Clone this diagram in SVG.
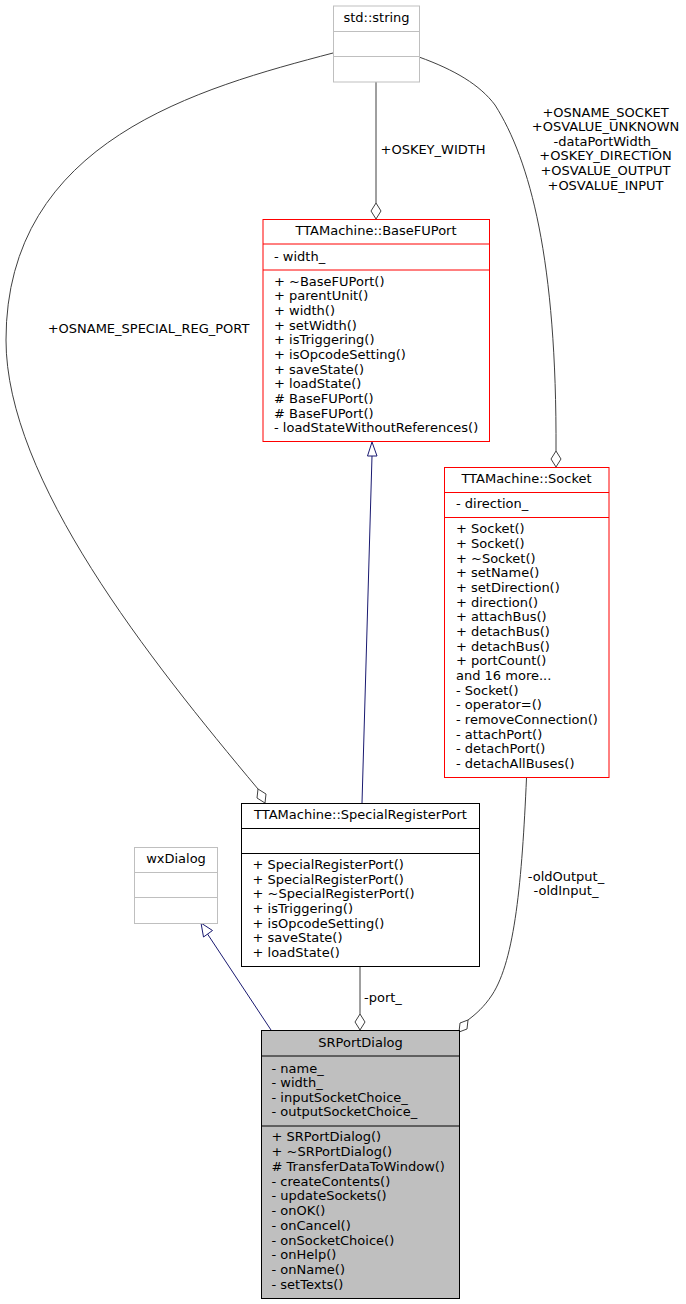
<svg xmlns="http://www.w3.org/2000/svg" width="686" height="1304" viewBox="0 0 686 1304">
<style>
text{font-family:"DejaVu Sans",Verdana,sans-serif;font-size:13px;fill:#000}
.c{text-anchor:middle}
.box{fill:#fff;stroke:#000;stroke-width:1}
.red{fill:#fff;stroke:#ff0000;stroke-width:1}
.gray{fill:#fff;stroke:#bfbfbf;stroke-width:1}
.sel{fill:#bfbfbf;stroke:#000;stroke-width:1}
.e{fill:none;stroke:#404040;stroke-width:1}
.inh{fill:none;stroke:#191970;stroke-width:1}
.dia{fill:#fff;stroke:#404040;stroke-width:1}
.tri{fill:#fff;stroke:#191970;stroke-width:1}
</style>
<rect width="686" height="1304" fill="#fff"/>
<g id="connectors">
  <!-- std::string -> BaseFUPort -->
  <path class="e" d="M376,82 L376,203"/>
  <polygon class="dia" points="376,203 381,211 376,219 371,211"/>
  <text x="380.5" y="154">+OSKEY_WIDTH</text>
  <!-- std::string -> Socket -->
  <path class="e" d="M419,57 C455,70 480,85 495,105 C530,160 557,260 556,451"/>
  <polygon class="dia" points="556,451 561,459 556,467 551,459"/>
  <text class="c" x="605.5" y="116.7">+OSNAME_SOCKET</text>
  <text class="c" x="605.5" y="131.3">+OSVALUE_UNKNOWN</text>
  <text class="c" x="605.5" y="145.7">-dataPortWidth_</text>
  <text class="c" x="605.5" y="160.3">+OSKEY_DIRECTION</text>
  <text class="c" x="605.5" y="175">+OSVALUE_OUTPUT</text>
  <text class="c" x="605.5" y="189.7">+OSVALUE_INPUT</text>
  <!-- std::string -> SpecialRegisterPort -->
  <path class="e" d="M333,53 C200,88 6,140 6,340 C6,480 150,660 258,789"/>
  <polygon class="dia" points="258,789 266,794 265,803 257,798"/>
  <text class="c" x="148.5" y="333">+OSNAME_SPECIAL_REG_PORT</text>
  <!-- SpecialRegisterPort -> BaseFUPort (inheritance) -->
  <path class="inh" d="M362,803 L372,456"/>
  <polygon class="tri" points="372,442 377,456 367.5,456"/>
  <!-- SRPortDialog -> wxDialog (inheritance) -->
  <path class="inh" d="M271,1030 L207.5,934"/>
  <polygon class="tri" points="201,923 212.5,930.5 203.5,937"/>
  <!-- SpecialRegisterPort -> SRPortDialog -->
  <path class="e" d="M360,967 L360,1014"/>
  <polygon class="dia" points="360,1014 365,1022 360,1030 355,1022"/>
  <text x="364" y="1002">-port_</text>
  <!-- Socket -> SRPortDialog -->
  <path class="e" d="M526.5,778 C522,880 515,960 492,995 C484,1007 476,1014 468,1020"/>
  <polygon class="dia" points="468,1020 467,1029 459,1032 460,1023"/>
  <text class="c" x="566" y="880.5">-oldOutput_</text>
  <text class="c" x="566" y="895">-oldInput_</text>
</g>
<g id="std_string">
  <rect class="gray" x="333.5" y="6" width="86" height="76"/>
  <line class="gray" x1="333.5" y1="31.5" x2="419.5" y2="31.5"/>
  <line class="gray" x1="333.5" y1="56.5" x2="419.5" y2="56.5"/>
  <text class="c" x="376.5" y="21.5">std::string</text>
</g>
<g id="BaseFUPort">
  <rect class="red" x="263" y="219.5" width="226.5" height="222"/>
  <line class="red" x1="263" y1="244" x2="489.5" y2="244"/>
  <line class="red" x1="263" y1="270" x2="489.5" y2="270"/>
  <text class="c" x="376" y="235">TTAMachine::BaseFUPort</text>
  <text x="274" y="261">- width_</text>
  <text x="274" y="285.5">+ ~BaseFUPort()</text>
  <text x="274" y="300.2">+ parentUnit()</text>
  <text x="274" y="314.8">+ width()</text>
  <text x="274" y="329.5">+ setWidth()</text>
  <text x="274" y="344.2">+ isTriggering()</text>
  <text x="274" y="358.9">+ isOpcodeSetting()</text>
  <text x="274" y="373.5">+ saveState()</text>
  <text x="274" y="388.2">+ loadState()</text>
  <text x="274" y="402.9"># BaseFUPort()</text>
  <text x="274" y="417.5"># BaseFUPort()</text>
  <text x="274" y="432.2">- loadStateWithoutReferences()</text>
</g>
<g id="Socket">
  <rect class="red" x="444.5" y="467.5" width="164.5" height="310"/>
  <line class="red" x1="444.5" y1="492.5" x2="609" y2="492.5"/>
  <line class="red" x1="444.5" y1="517.5" x2="609" y2="517.5"/>
  <text class="c" x="526.5" y="482.5">TTAMachine::Socket</text>
  <text x="456" y="508">- direction_</text>
  <text x="456" y="533.3">+ Socket()</text>
  <text x="456" y="548">+ Socket()</text>
  <text x="456" y="562.6">+ ~Socket()</text>
  <text x="456" y="577.3">+ setName()</text>
  <text x="456" y="592">+ setDirection()</text>
  <text x="456" y="606.6">+ direction()</text>
  <text x="456" y="621.3">+ attachBus()</text>
  <text x="456" y="636">+ detachBus()</text>
  <text x="456" y="650.7">+ detachBus()</text>
  <text x="456" y="665.3">+ portCount()</text>
  <text x="456" y="680">and 16 more...</text>
  <text x="456" y="694.7">- Socket()</text>
  <text x="456" y="709.3">- operator=()</text>
  <text x="456" y="724">- removeConnection()</text>
  <text x="456" y="738.7">- attachPort()</text>
  <text x="456" y="753.4">- detachPort()</text>
  <text x="456" y="768">- detachAllBuses()</text>
</g>
<g id="SpecialRegisterPort">
  <rect class="box" x="241.5" y="803.5" width="238" height="163"/>
  <line class="box" x1="241.5" y1="828.5" x2="479.5" y2="828.5"/>
  <line class="box" x1="241.5" y1="853.5" x2="479.5" y2="853.5"/>
  <text class="c" x="360.5" y="818.5">TTAMachine::SpecialRegisterPort</text>
  <text x="252.5" y="869">+ SpecialRegisterPort()</text>
  <text x="252.5" y="883.7">+ SpecialRegisterPort()</text>
  <text x="252.5" y="898.3">+ ~SpecialRegisterPort()</text>
  <text x="252.5" y="913">+ isTriggering()</text>
  <text x="252.5" y="927.7">+ isOpcodeSetting()</text>
  <text x="252.5" y="942.3">+ saveState()</text>
  <text x="252.5" y="957">+ loadState()</text>
</g>
<g id="wxDialog">
  <rect class="gray" x="134.5" y="847.5" width="83" height="76"/>
  <line class="gray" x1="134.5" y1="872.5" x2="217.5" y2="872.5"/>
  <line class="gray" x1="134.5" y1="897.5" x2="217.5" y2="897.5"/>
  <text class="c" x="176" y="863">wxDialog</text>
</g>
<g id="SRPortDialog">
  <rect class="sel" x="261.5" y="1030.5" width="198" height="268"/>
  <line class="box" x1="261.5" y1="1056" x2="459.5" y2="1056"/>
  <line class="box" x1="261.5" y1="1126" x2="459.5" y2="1126"/>
  <text class="c" x="360.5" y="1046.5">SRPortDialog</text>
  <text x="271.5" y="1072.5">- name_</text>
  <text x="271.5" y="1087">- width_</text>
  <text x="271.5" y="1101.5">- inputSocketChoice_</text>
  <text x="271.5" y="1116">- outputSocketChoice_</text>
  <text x="271.5" y="1141.3">+ SRPortDialog()</text>
  <text x="271.5" y="1156">+ ~SRPortDialog()</text>
  <text x="271.5" y="1170.8"># TransferDataToWindow()</text>
  <text x="271.5" y="1185.6">- createContents()</text>
  <text x="271.5" y="1200.4">- updateSockets()</text>
  <text x="271.5" y="1215.1">- onOK()</text>
  <text x="271.5" y="1229.9">- onCancel()</text>
  <text x="271.5" y="1244.7">- onSocketChoice()</text>
  <text x="271.5" y="1259.4">- onHelp()</text>
  <text x="271.5" y="1274.2">- onName()</text>
  <text x="271.5" y="1289">- setTexts()</text>
</g>
</svg>
